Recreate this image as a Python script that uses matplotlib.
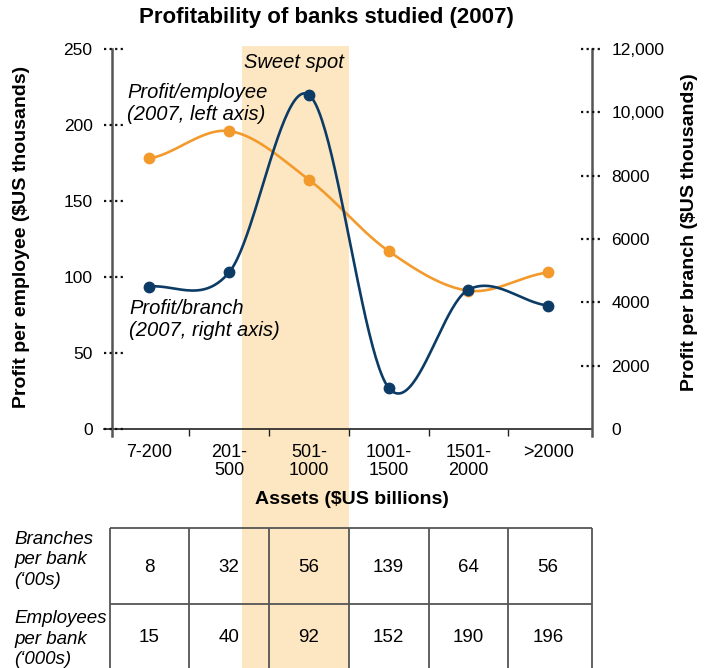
import matplotlib
matplotlib.use("Agg")
import matplotlib.pyplot as plt
import matplotlib.transforms as mtransforms
from matplotlib.patches import Rectangle
import numpy as np

plt.rcParams['font.family'] = ['Liberation Sans', 'DejaVu Sans']

# data
categories = ['7-200', '201-\n500', '501-\n1000', '1001-\n1500', '1501-\n2000', '>2000']
profit_per_employee = [178, 196, 164, 117, 91, 103]        # left axis, $US thousands
profit_per_branch = [4500, 4950, 10550, 1300, 4400, 3900]  # right axis, $US thousands
left_ticks = [0, 50, 100, 150, 200, 250]
right_ticks = [0, 2000, 4000, 6000, 8000, 10000, 12000]
right_tick_labels = ['0', '2000', '4000', '6000', '8000', '10,000', '12,000']
row_labels = ['Branches\nper bank\n(\u201800s)', 'Employees\nper bank\n(\u2018000s)']
branches_per_bank = [8, 32, 56, 139, 64, 56]
employees_per_bank = [15, 40, 92, 152, 190, 196]

ORANGE = '#F39A2D'
BLUE = '#0C3C66'
BAND = '#FDE7C3'
W, H = 712, 668


def smooth(y, n=50):
    # Catmull-Rom through the points, only used to draw the line
    y = np.asarray(y, float)
    m = np.empty_like(y)
    m[1:-1] = (y[2:] - y[:-2]) / 2
    m[0] = (y[1] - y[0]) / 2
    m[-1] = (y[-1] - y[-2]) / 2
    t = np.linspace(0, 1, n)
    h00 = 2 * t**3 - 3 * t**2 + 1
    h10 = t**3 - 2 * t**2 + t
    h01 = -2 * t**3 + 3 * t**2
    h11 = t**3 - t**2
    xs, ys = [], []
    for i in range(len(y) - 1):
        xs.append(i + t)
        ys.append(h00 * y[i] + h10 * m[i] + h01 * y[i + 1] + h11 * m[i + 1])
    return np.concatenate(xs), np.concatenate(ys)


def ftext(x, y, s, **kw):
    fig.text(x / W, 1 - y / H, s, **kw)


fig = plt.figure(figsize=(W / 100, H / 100), dpi=100)
ax = fig.add_axes([112 / W, 1 - 429 / H, 480 / W, 380 / H])
xlim = (-0.47, 5.55)
ax.set_xlim(*xlim)
ax.set_ylim(0, 250)
ax.patch.set_visible(False)
for s in ax.spines.values():
    s.set_visible(False)

ax2 = ax.twinx()
ax2.set_ylim(0, 12000)
for s in ax2.spines.values():
    s.set_visible(False)

# sweet spot band, running from the top of the plot to the bottom of the table
band = Rectangle((1.16, 0), 2.5 - 1.16, 1 - 46 / H,
                 transform=mtransforms.blended_transform_factory(ax.transData, fig.transFigure),
                 facecolor=BAND, edgecolor='none', clip_on=False, zorder=0)
ax.add_artist(band)

# axis lines
ax.plot([-8 / 480, 1], [0, 0], transform=ax.transAxes, color='#222', lw=1.2, clip_on=False)
ax.plot([0, 0], [-7 / 380, 1], transform=ax.transAxes, color='#555', lw=1.8, clip_on=False)
ax.plot([1, 1], [-7 / 380, 1], transform=ax.transAxes, color='#555', lw=1.8, clip_on=False)

# y ticks with dotted marks
ax.set_yticks(left_ticks)
ax.tick_params(axis='y', length=0, pad=14, labelsize=12.5)
ax2.set_yticks(right_ticks)
ax2.set_yticklabels(right_tick_labels)
ax2.tick_params(axis='y', length=0, pad=14, labelsize=12.5)
tl = mtransforms.blended_transform_factory(ax.transAxes, ax.transData)
for v in left_ticks:
    ax.plot([-8 / 480, 11 / 480], [v, v], transform=tl, color='#111', lw=1.6,
            ls=(0, (1, 1.5)), clip_on=False)
tr = mtransforms.blended_transform_factory(ax2.transAxes, ax2.transData)
for v in right_ticks[1:]:
    ax2.plot([1 - 11 / 480, 1 + 8 / 480], [v, v], transform=tr, color='#111', lw=1.6,
             ls=(0, (1, 1.5)), clip_on=False)

# x ticks at category boundaries, labels at centres
ax.set_xticks(np.arange(len(categories) - 1) + 0.5)
ax.set_xticklabels([])
ax.tick_params(axis='x', which='major', length=5, width=1, color='#222', direction='out')
ax.set_xticks(np.arange(len(categories)), minor=True)
ax.set_xticklabels(categories, minor=True, fontsize=13, linespacing=1.05)
ax.tick_params(axis='x', which='minor', length=0, pad=11)

# series
xs, ys = smooth(profit_per_employee)
ax.plot(xs, ys, color=ORANGE, lw=1.9, zorder=3)
ax.plot(range(len(profit_per_employee)), profit_per_employee, 'o', color=ORANGE, ms=7.5, zorder=4)
xs, ys = smooth(profit_per_branch)
ax2.plot(xs, ys, color=BLUE, lw=1.9, zorder=3)
ax2.plot(range(len(profit_per_branch)), profit_per_branch, 'o', color=BLUE, ms=7.5, zorder=4)

# texts
ftext(326, 18, 'Profitability of banks studied (2007)', ha='center', va='center',
      fontsize=16, fontweight='bold')
ftext(22, 237, 'Profit per employee ($US thousands)', ha='center', va='center',
      rotation=90, fontsize=14, fontweight='bold')
ftext(690, 232, 'Profit per branch ($US thousands)', ha='center', va='center',
      rotation=90, fontsize=14, fontweight='bold')
ftext(352, 500, 'Assets ($US billions)', ha='center', va='center',
      fontsize=14, fontweight='bold')
ftext(244, 63, 'Sweet spot', ha='left', va='center', fontsize=14.5, style='italic')
ftext(127, 103, 'Profit/employee\n(2007, left axis)', ha='left', va='center',
      fontsize=14.5, style='italic', linespacing=1.2)
ftext(129, 320, 'Profit/branch\n(2007, right axis)', ha='left', va='center',
      fontsize=14.5, style='italic', linespacing=1.2)

# table under the chart
tax = fig.add_axes([112 / W, 0, 480 / W, 140 / H])
tax.set_xlim(*xlim)
tax.set_ylim(140, 0)
tax.axis('off')
edges = list(np.arange(len(categories)) - 0.5) + [xlim[1]]
tax.hlines([0, 76], edges[0], edges[-1], color='#555', lw=1.3, clip_on=False)
tax.vlines(edges, 0, 140, color='#555', lw=1.3, clip_on=False)
for i, (b, e) in enumerate(zip(branches_per_bank, employees_per_bank)):
    tax.text(i, 40, str(b), ha='center', va='center', fontsize=13.5)
    tax.text(i, 110, str(e), ha='center', va='center', fontsize=13.5)
ftext(14, 560, row_labels[0], ha='left', va='center', fontsize=13.5, style='italic', linespacing=1.3)
ftext(14, 639, row_labels[1], ha='left', va='center', fontsize=13.5, style='italic', linespacing=1.3)

fig.savefig('out.png', dpi=100)
